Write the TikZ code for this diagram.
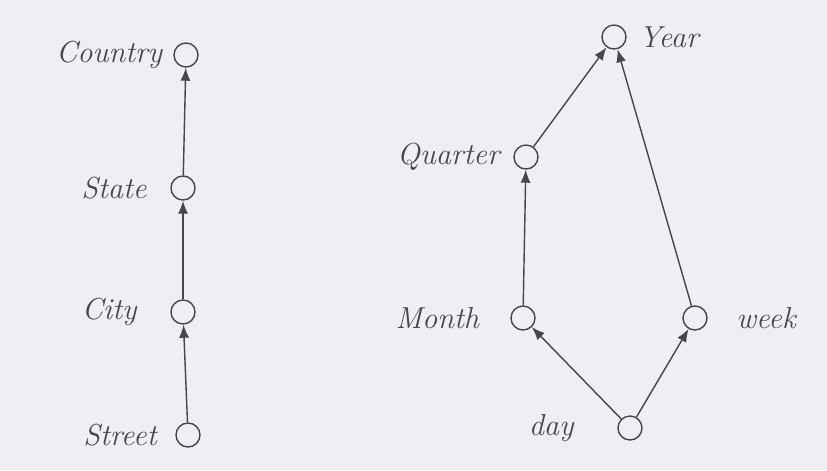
\documentclass[tikz,border=0pt]{standalone}
\usetikzlibrary{arrows.meta}
\definecolor{paper}{RGB}{238,238,244}
\definecolor{ink}{RGB}{70,70,78}
\begin{document}
\begin{tikzpicture}[
    level/.style={
        circle,
        draw=ink,
        thick,
        minimum size=0.48cm,
        inner sep=0pt
    },
    line/.style={
        draw=ink, -{Latex[length=2.6mm,width=2mm]}, thick
    },
    every label/.style={
        text=ink,
        font=\LARGE\itshape
    }
]

\useasboundingbox [fill=paper] (0,0) rectangle (16.54,-9.4);

% Location hierarchy
\node [level, label={[label distance=0.1cm]left:Country}] (country) at (3.72,-1.10) {};
\node [level, label={[label distance=0.35cm]left:State}] (state) at (3.66,-3.76) {};
\node [level, label={[label distance=0.55cm]left:City}] (city) at (3.66,-6.24) {};
\node [level, label={[label distance=0.25cm]left:Street}] (street) at (3.76,-8.70) {};

% Time hierarchy
\node [level, label={[label distance=0.12cm]right:Year}] (year) at (12.28,-0.74) {};
\node [level, label={[label distance=0.15cm]left:Quarter}] (quarter) at (10.52,-3.14) {};
\node [level, label={[label distance=0.5cm]left:Month}] (month) at (10.46,-6.36) {};
\node [level, label={[label distance=0.45cm]right:week}] (week) at (13.90,-6.36) {};
\node [level, label={[label distance=0.75cm]left:day}] (day) at (12.60,-8.56) {};

% Arrows
\path [line] (street) -- (city);
\path [line] (city) -- (state);
\path [line] (state) -- (country);

\path [line] (month) -- (quarter);
\path [line] (quarter) -- (year);
\path [line] (week) -- (year);
\path [line] (day) -- (month);
\path [line] (day) -- (week);

\end{tikzpicture}
\end{document}
